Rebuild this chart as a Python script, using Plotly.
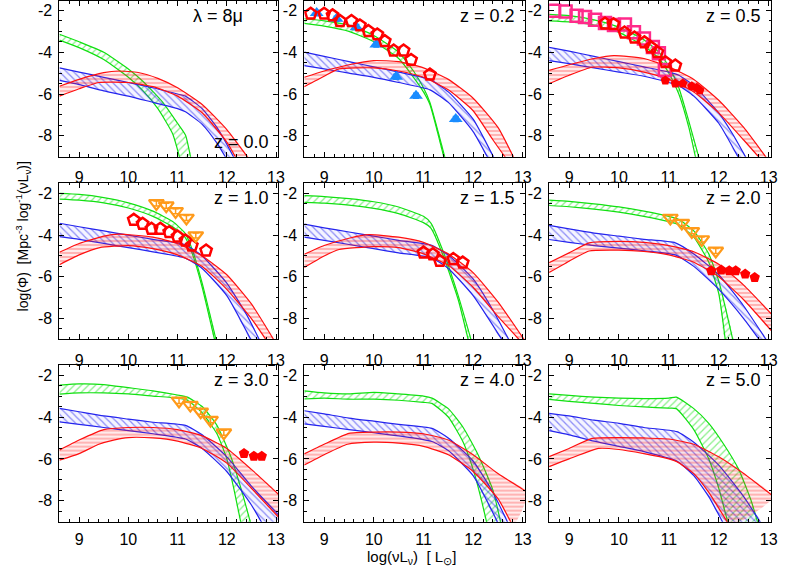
import plotly.graph_objects as go

# ---------------- data ----------------
panel_labels = ["z = 0.0", "z = 0.2", "z = 0.5", "z = 1.0", "z = 1.5", "z = 2.0", "z = 3.0", "z = 4.0", "z = 5.0"]
x_ticks = [9, 10, 11, 12, 13]
y_ticks = [-8, -6, -4, -2]

# z = 0.0
p1_green_up = [(8.6,-3.14),(9.0,-3.5),(9.5,-4.0),(10.0,-4.8),(10.3,-5.4),(10.7,-6.4),(11.0,-7.4),(11.16,-7.96),(11.28,-9.2)]
p1_green_lo = [(8.6,-3.42),(9.0,-3.78),(9.5,-4.35),(10.0,-5.2),(10.3,-5.85),(10.6,-6.7),(10.9,-7.9),(11.06,-9.2)]
p1_blue_up = [(8.6,-4.75),(9.0,-4.95),(9.5,-5.2),(10.0,-5.45),(10.5,-5.7),(11.0,-6.0),(11.16,-6.1),(11.5,-6.7),(11.8,-7.6),(12.0,-8.4),(12.18,-9.2)]
p1_blue_lo = [(8.6,-5.35),(9.0,-5.55),(9.5,-5.85),(10.0,-6.1),(10.5,-6.4),(11.0,-6.7),(11.16,-6.85),(11.5,-7.45),(11.8,-8.35),(12.02,-9.2)]
p1_red_up = [(8.6,-5.63),(9.0,-5.3),(9.5,-4.98),(9.8,-4.9),(10.2,-4.97),(10.6,-5.25),(11.0,-5.7),(11.5,-6.5),(12.0,-7.7),(12.48,-9.2)]
p1_red_lo = [(8.6,-6.1),(9.0,-5.75),(9.4,-5.45),(10.0,-5.45),(10.5,-5.65),(11.0,-6.1),(11.5,-6.9),(12.0,-8.3),(12.22,-9.2)]
# z = 0.2
p2_green_up = [(8.6,-2.4),(9.0,-2.5),(9.5,-2.7),(10.0,-3.2),(10.5,-4.0),(10.8,-4.9),(11.0,-5.7),(11.13,-6.4),(11.45,-9.2)]
p2_green_lo = [(8.6,-2.62),(9.0,-2.75),(9.5,-3.0),(10.0,-3.5),(10.5,-4.3),(10.8,-5.2),(11.0,-5.9),(11.13,-6.5),(11.43,-9.2)]
p2_blue_up = [(8.6,-4.0),(9.0,-4.2),(9.5,-4.45),(10.0,-4.7),(10.5,-4.95),(11.13,-5.3),(11.5,-5.9),(12.0,-7.2),(12.45,-9.2)]
p2_blue_lo = [(8.6,-4.64),(9.0,-4.8),(9.5,-5.0),(10.0,-5.2),(10.5,-5.45),(11.13,-5.8),(11.5,-6.4),(12.0,-7.8),(12.33,-9.2)]
p2_red_up = [(8.6,-5.2),(9.0,-4.9),(9.5,-4.6),(10.0,-4.4),(10.5,-4.45),(11.0,-4.75),(11.5,-5.3),(12.0,-6.2),(12.5,-7.6),(12.85,-9.2)]
p2_red_lo = [(8.6,-5.65),(9.0,-5.15),(9.3,-4.8),(10.0,-4.75),(10.5,-4.9),(11.0,-5.2),(11.5,-5.8),(12.0,-6.8),(12.4,-8.2),(12.7,-9.2)]
# z = 0.5
p3_green_up = [(8.6,-2.19),(9.0,-2.25),(9.5,-2.45),(10.0,-2.8),(10.5,-3.4),(10.8,-4.0),(11.0,-4.7),(11.2,-5.7),(11.4,-7.3),(11.62,-9.2)]
p3_green_lo = [(8.6,-2.5),(9.0,-2.55),(9.5,-2.7),(10.0,-3.05),(10.5,-3.7),(10.8,-4.3),(11.0,-5.0),(11.2,-6.0),(11.4,-7.6),(11.55,-9.2)]
p3_blue_up = [(8.6,-3.77),(9.0,-3.95),(9.5,-4.2),(10.0,-4.45),(10.5,-4.7),(11.0,-4.95),(11.2,-5.1),(11.5,-5.6),(12.0,-6.9),(12.3,-8.0),(12.58,-9.2)]
p3_blue_lo = [(8.6,-4.4),(9.0,-4.55),(9.5,-4.75),(10.0,-4.95),(10.5,-5.15),(11.0,-5.45),(11.2,-5.6),(11.5,-6.1),(12.0,-7.4),(12.43,-9.2)]
p3_red_up = [(8.6,-4.87),(9.0,-4.6),(9.5,-4.3),(9.9,-4.16),(10.5,-4.3),(11.0,-4.7),(11.5,-5.3),(12.0,-6.3),(12.5,-7.6),(13.0,-9.2)]
p3_red_lo = [(8.6,-5.5),(9.0,-5.1),(9.46,-4.72),(10.0,-4.75),(10.5,-4.95),(11.0,-5.3),(11.5,-5.9),(12.0,-6.9),(12.5,-8.2),(12.87,-9.2)]
# z = 1.0
p4_green_up = [(8.6,-2.0),(9.0,-2.05),(9.5,-2.2),(10.0,-2.45),(10.5,-2.85),(10.9,-3.35),(11.15,-3.9),(11.3,-4.7),(11.5,-6.3),(11.8,-9.2)]
p4_green_lo = [(8.6,-2.27),(9.0,-2.32),(9.5,-2.45),(10.0,-2.7),(10.5,-3.1),(10.9,-3.6),(11.15,-4.1),(11.3,-4.9),(11.5,-6.5),(11.77,-9.2)]
p4_blue_up = [(8.6,-3.43),(9.0,-3.6),(9.5,-3.8),(10.0,-4.0),(10.5,-4.2),(11.15,-4.45),(11.5,-5.0),(12.0,-6.3),(12.4,-7.8),(12.7,-9.2)]
p4_blue_lo = [(8.6,-4.07),(9.0,-4.2),(9.5,-4.4),(10.0,-4.6),(10.5,-4.8),(11.15,-5.1),(11.5,-5.6),(12.0,-6.9),(12.53,-9.2)]
p4_red_up = [(8.6,-4.82),(9.0,-4.4),(9.5,-4.05),(9.8,-3.95),(10.5,-4.1),(11.0,-4.4),(11.5,-5.0),(12.0,-5.9),(12.5,-7.3),(13.0,-9.2)]
p4_red_lo = [(8.6,-5.42),(9.0,-4.95),(9.42,-4.6),(10.0,-4.5),(10.5,-4.65),(11.0,-4.95),(11.5,-5.5),(12.0,-6.6),(12.5,-8.0),(12.85,-9.2)]
# z = 1.5
p5_green_up = [(8.6,-2.11),(9.0,-2.15),(9.5,-2.25),(10.0,-2.4),(10.5,-2.65),(11.0,-3.1),(11.15,-3.42),(11.4,-4.8),(11.7,-6.9),(11.98,-9.2)]
p5_green_lo = [(8.6,-2.43),(9.0,-2.47),(9.5,-2.56),(10.0,-2.72),(10.5,-2.97),(11.0,-3.4),(11.15,-3.66),(11.4,-5.0),(11.7,-7.1),(11.92,-9.2)]
p5_blue_up = [(8.6,-3.47),(9.0,-3.65),(9.5,-3.85),(10.0,-4.05),(10.5,-4.25),(11.15,-4.48),(11.5,-4.95),(12.0,-6.1),(12.4,-7.6),(12.76,-9.2)]
p5_blue_lo = [(8.6,-4.1),(9.0,-4.25),(9.5,-4.45),(10.0,-4.65),(10.5,-4.85),(11.15,-5.08),(11.5,-5.6),(12.0,-6.9),(12.63,-9.2)]
p5_red_up = [(8.6,-4.92),(9.0,-4.5),(9.5,-4.15),(9.9,-3.98),(10.5,-4.1),(11.0,-4.35),(11.5,-4.9),(12.0,-5.8),(12.5,-7.2),(13.08,-9.2)]
p5_red_lo = [(8.6,-5.55),(9.0,-5.0),(9.3,-4.69),(10.0,-4.55),(10.5,-4.6),(11.0,-4.9),(11.5,-5.45),(12.0,-6.5),(12.5,-7.9),(13.0,-9.2)]
# z = 2.0
p6_green_up = [(8.6,-2.32),(9.0,-2.38),(9.5,-2.5),(10.0,-2.65),(10.5,-2.85),(11.0,-3.1),(11.2,-3.25),(11.5,-3.8),(11.8,-4.9),(12.0,-6.2),(12.3,-9.2)]
p6_green_lo = [(8.6,-2.58),(9.0,-2.64),(9.5,-2.75),(10.0,-2.9),(10.5,-3.1),(11.0,-3.35),(11.2,-3.5),(11.5,-4.1),(11.8,-5.3),(12.0,-6.8),(12.14,-9.2)]
p6_blue_up = [(8.6,-3.53),(9.0,-3.7),(9.5,-3.9),(10.0,-4.05),(10.5,-4.2),(11.13,-4.37),(11.5,-4.9),(12.0,-5.9),(12.5,-7.4),(13.0,-9.2)]
p6_blue_lo = [(8.6,-4.21),(9.0,-4.35),(9.5,-4.5),(10.0,-4.62),(10.5,-4.75),(11.13,-4.95),(11.5,-5.5),(12.0,-6.6),(12.5,-8.0),(12.87,-9.2)]
p6_red_up = [(8.6,-5.32),(9.0,-4.85),(9.4,-4.37),(10.0,-4.3),(10.5,-4.35),(11.0,-4.5),(11.5,-4.8),(12.0,-5.4),(12.5,-6.4),(13.1,-7.9)]
p6_red_lo = [(8.6,-5.79),(9.0,-5.25),(9.4,-4.76),(10.0,-4.72),(10.5,-4.78),(11.0,-4.95),(11.5,-5.3),(12.0,-6.0),(12.5,-7.1),(13.1,-8.7)]
# z = 3.0
p7_green_up = [(8.6,-2.48),(9.0,-2.42),(9.5,-2.45),(10.0,-2.6),(10.5,-2.75),(11.0,-2.95),(11.2,-3.05),(11.5,-3.5),(11.8,-4.4),(12.1,-6.0),(12.3,-7.5),(12.5,-9.2)]
p7_green_lo = [(8.6,-2.91),(9.0,-2.85),(9.5,-2.85),(10.0,-2.9),(10.5,-3.0),(11.0,-3.1),(11.2,-3.2),(11.5,-3.8),(11.8,-4.8),(12.0,-6.0),(12.15,-7.5),(12.3,-9.2)]
p7_blue_up = [(8.6,-3.59),(9.0,-3.75),(9.5,-3.95),(10.0,-4.1),(10.5,-4.25),(11.16,-4.4),(11.5,-4.85),(12.0,-5.9),(12.5,-7.3),(13.1,-8.8)]
p7_blue_lo = [(8.6,-4.23),(9.0,-4.35),(9.5,-4.5),(10.0,-4.65),(10.5,-4.8),(11.16,-5.05),(11.5,-5.5),(12.0,-6.6),(12.5,-8.2),(12.75,-9.2)]
p7_red_up = [(8.6,-5.58),(9.0,-5.1),(9.5,-4.6),(10.0,-4.5),(10.5,-4.5),(11.0,-4.6),(11.5,-4.9),(12.0,-5.5),(12.5,-6.5),(13.1,-7.8)]
p7_red_lo = [(8.6,-6.06),(9.0,-5.75),(9.4,-5.3),(9.7,-5.1),(10.0,-4.98),(10.5,-5.0),(11.0,-5.15),(11.5,-5.5),(12.0,-6.2),(12.5,-7.4),(13.1,-8.9)]
# z = 4.0
p8_green_up = [(8.6,-2.75),(9.0,-2.85),(9.5,-2.9),(10.0,-2.82),(10.5,-2.9),(11.0,-3.0),(11.17,-3.1),(11.5,-3.6),(11.8,-4.5),(12.1,-5.8),(12.4,-7.5),(12.57,-9.2)]
p8_green_lo = [(8.6,-3.14),(9.0,-3.1),(9.5,-3.15),(10.0,-3.15),(10.5,-3.2),(11.0,-3.3),(11.17,-3.35),(11.5,-4.0),(11.8,-5.2),(12.0,-6.5),(12.15,-7.8),(12.29,-9.2)]
p8_blue_up = [(8.6,-3.7),(9.0,-3.85),(9.5,-4.05),(10.0,-4.2),(10.5,-4.35),(11.17,-4.54),(11.5,-5.0),(12.0,-6.1),(12.4,-7.6),(12.73,-9.2)]
p8_blue_lo = [(8.6,-4.33),(9.0,-4.45),(9.5,-4.6),(10.0,-4.75),(10.5,-4.9),(11.17,-5.17),(11.5,-5.6),(12.0,-6.8),(12.53,-9.2)]
p8_red_up = [(8.6,-5.76),(9.0,-5.3),(9.5,-4.78),(10.0,-4.72),(10.5,-4.72),(11.0,-4.8),(11.5,-5.1),(12.0,-5.8),(12.5,-6.7),(13.1,-7.6)]
p8_red_lo = [(8.6,-6.29),(9.0,-5.8),(9.47,-5.3),(10.0,-5.2),(10.5,-5.25),(11.0,-5.4),(11.5,-5.8),(12.0,-6.6),(12.5,-7.9),(12.8,-9.2)]
# z = 5.0
p9_green_up = [(8.6,-2.9),(9.0,-2.97),(9.5,-3.05),(10.0,-3.1),(10.5,-3.12),(11.0,-3.1),(11.15,-3.05),(11.5,-3.6),(11.8,-4.3),(12.1,-5.3),(12.4,-6.5),(12.65,-8.0),(12.8,-9.2)]
p9_green_lo = [(8.6,-3.16),(9.0,-3.25),(9.5,-3.35),(10.0,-3.45),(10.5,-3.52),(11.0,-3.58),(11.15,-3.6),(11.5,-4.6),(11.8,-6.0),(12.0,-7.4),(12.2,-9.2)]
p9_blue_up = [(8.6,-3.83),(9.0,-3.95),(9.5,-4.15),(10.0,-4.3),(10.5,-4.5),(11.16,-4.7),(11.5,-5.2),(12.0,-6.3),(12.5,-7.8),(12.88,-9.2)]
p9_blue_lo = [(8.6,-4.65),(9.0,-4.85),(9.5,-5.15),(10.0,-5.4),(10.5,-5.65),(11.16,-6.1),(11.5,-6.8),(11.8,-7.8),(12.12,-9.2)]
p9_red_up = [(8.6,-5.89),(9.0,-5.5),(9.46,-5.02),(10.0,-4.98),(10.5,-5.0),(11.0,-5.05),(11.5,-5.3),(12.0,-5.9),(12.5,-6.7),(13.1,-7.8)]
p9_red_lo = [(8.6,-6.37),(9.0,-6.0),(9.59,-5.5),(10.0,-5.55),(10.5,-5.75),(11.0,-6.0),(11.16,-6.13),(11.5,-6.7),(11.8,-7.6),(12.22,-9.2)]

# observed points
p2_pent_x = [8.73, 9.0, 9.17, 9.32, 9.55, 9.72, 9.89, 10.07, 10.22, 10.4, 10.6, 10.75, 11.13]
p2_pent_y = [-2.16, -2.16, -2.24, -2.51, -2.51, -2.72, -2.99, -3.15, -3.47, -3.92, -3.92, -4.37, -5.07]
p2_tri_x = [8.85, 9.25, 9.65, 10.05, 10.45, 10.85, 11.65]
p2_tri_y = [-2.13, -2.4, -2.8, -3.63, -5.17, -6.08, -7.2]
p3_sq_x = [8.70, 8.93, 9.15, 9.32, 9.52, 9.72, 9.90, 10.12, 10.30, 10.50, 10.68, 10.80, 10.92]
p3_sq_y = [-2.02, -2.05, -2.25, -2.32, -2.45, -2.6, -2.7, -2.68, -3.05, -3.35, -3.75, -4.05, -4.85]
p3_pent_x = [9.72, 9.89, 10.11, 10.31, 10.51, 10.64, 10.77, 10.93, 11.13]
p3_pent_y = [-2.63, -2.66, -3.06, -3.3, -3.53, -3.77, -4.0, -4.48, -4.64]
p3_fpent_x = [10.93, 11.13, 11.28, 11.46, 11.56, 11.62]
p3_fpent_y = [-5.35, -5.5, -5.5, -5.63, -5.7, -5.82]
p4_pent_x = [10.11, 10.29, 10.47, 10.65, 10.83, 11.0, 11.16, 11.29, 11.58]
p4_pent_y = [-3.27, -3.46, -3.7, -3.7, -3.86, -4.07, -4.26, -4.5, -4.74]
p4_dtri_x = [10.57, 10.77, 10.96, 11.18, 11.37]
p4_dtri_y = [-2.48, -2.59, -2.86, -3.18, -4.02]
p5_pent_x = [11.0, 11.19, 11.33, 11.6, 11.79]
p5_pent_y = [-4.84, -4.92, -5.24, -5.15, -5.32]
p6_dtri_x = [11.03, 11.26, 11.46, 11.66, 11.94]
p6_dtri_y = [-3.18, -3.42, -3.82, -4.21, -4.76]
p6_fpent_x = [11.85, 12.05, 12.21, 12.34, 12.53, 12.72]
p6_fpent_y = [-5.71, -5.67, -5.71, -5.71, -5.87, -6.03]
p7_dtri_x = [11.03, 11.26, 11.47, 11.67, 11.94]
p7_dtri_y = [-3.23, -3.43, -3.75, -4.15, -4.75]
p7_fpent_x = [12.35, 12.55, 12.71]
p7_fpent_y = [-5.74, -5.87, -5.87]

bands = [
    [(p1_green_up, p1_green_lo), (p1_blue_up, p1_blue_lo), (p1_red_up, p1_red_lo)],
    [(p2_green_up, p2_green_lo), (p2_blue_up, p2_blue_lo), (p2_red_up, p2_red_lo)],
    [(p3_green_up, p3_green_lo), (p3_blue_up, p3_blue_lo), (p3_red_up, p3_red_lo)],
    [(p4_green_up, p4_green_lo), (p4_blue_up, p4_blue_lo), (p4_red_up, p4_red_lo)],
    [(p5_green_up, p5_green_lo), (p5_blue_up, p5_blue_lo), (p5_red_up, p5_red_lo)],
    [(p6_green_up, p6_green_lo), (p6_blue_up, p6_blue_lo), (p6_red_up, p6_red_lo)],
    [(p7_green_up, p7_green_lo), (p7_blue_up, p7_blue_lo), (p7_red_up, p7_red_lo)],
    [(p8_green_up, p8_green_lo), (p8_blue_up, p8_blue_lo), (p8_red_up, p8_red_lo)],
    [(p9_green_up, p9_green_lo), (p9_blue_up, p9_blue_lo), (p9_red_up, p9_red_lo)],
]

# ---------------- styling ----------------
GREEN = "#11e011"
BLUE = "#2424ee"
RED = "#ff1010"
PENT_RED = "#ff0000"
TRI_BLUE = "#1a8cff"
SQ_PINK = "#ff2a8a"
ORANGE = "#ff9a1a"
FONT = "Liberation Sans, Arial, Helvetica, sans-serif"

band_styles = [
    dict(color=GREEN, shape="/", size=5, bg="rgba(0,0,0,0)"),
    dict(color=BLUE, shape="\\", size=5, bg="rgba(60,60,255,0.06)"),
    dict(color=RED, shape="-", size=4, bg="rgba(255,60,60,0.10)"),
]

x_domains = [[0.0760, 0.3561], [0.3891, 0.6717], [0.7022, 0.9861]]
y_domains = [[0.7244, 1.0], [0.4011, 0.6779], [0.0783, 0.3564]]
y_ranges = [[-9, -1.55], [-9, -1.5], [-9, -1.5]]
x_label_standoff = [6, 6, 3]

fig = go.Figure()

for i in range(9):
    xa = "x" if i == 0 else f"x{i+1}"
    ya = "y" if i == 0 else f"y{i+1}"
    for (up, lo), st in zip(bands[i], band_styles):
        ux = [p[0] for p in up]; uy = [p[1] for p in up]
        lx = [p[0] for p in lo]; ly = [p[1] for p in lo]
        fig.add_trace(go.Scatter(
            x=ux + lx[::-1], y=uy + ly[::-1], xaxis=xa, yaxis=ya,
            mode="lines", line=dict(width=0, color=st["color"], shape="spline", smoothing=0.5),
            fill="toself", fillcolor=st["bg"],
            fillpattern=dict(shape=st["shape"], fgcolor=st["color"], bgcolor=st["bg"],
                             size=st["size"], solidity=0.25),
            hoverinfo="skip", showlegend=False))
        fig.add_trace(go.Scatter(
            x=ux + [None] + lx, y=uy + [None] + ly, xaxis=xa, yaxis=ya,
            mode="lines", line=dict(width=1.2, color=st["color"], shape="spline", smoothing=0.5),
            hoverinfo="skip", showlegend=False))

def add_pts(i, xs, ys, symbol, color, size, lw=2.5, err=None):
    xa = "x" if i == 0 else f"x{i+1}"
    ya = "y" if i == 0 else f"y{i+1}"
    kw = {}
    if err is not None:
        kw["error_y"] = dict(type="constant", value=err, color=color, thickness=1.5, width=3)
    fig.add_trace(go.Scatter(
        x=xs, y=ys, xaxis=xa, yaxis=ya, mode="markers",
        marker=dict(symbol=symbol, size=size, color=color, line=dict(width=lw, color=color)),
        showlegend=False, hoverinfo="skip", **kw))

add_pts(1, p2_tri_x, p2_tri_y, "triangle-up", TRI_BLUE, 12, 0, err=0.12)
add_pts(1, p2_pent_x, p2_pent_y, "pentagon-open", PENT_RED, 12)
add_pts(2, p3_sq_x, p3_sq_y, "square-open", SQ_PINK, 12)
add_pts(2, p3_pent_x, p3_pent_y, "pentagon-open", PENT_RED, 12)
add_pts(2, p3_fpent_x, p3_fpent_y, "pentagon", PENT_RED, 10, 0)
add_pts(3, p4_pent_x, p4_pent_y, "pentagon-open", PENT_RED, 12)
add_pts(3, p4_dtri_x, p4_dtri_y, "triangle-down-open", ORANGE, 13, 2.2, err=0.12)
add_pts(4, p5_pent_x, p5_pent_y, "pentagon-open", PENT_RED, 12)
add_pts(5, p6_dtri_x, p6_dtri_y, "triangle-down-open", ORANGE, 13, 2.2, err=0.12)
add_pts(5, p6_fpent_x, p6_fpent_y, "pentagon", PENT_RED, 11, 0)
add_pts(6, p7_dtri_x, p7_dtri_y, "triangle-down-open", ORANGE, 13, 2.2, err=0.12)
add_pts(6, p7_fpent_x, p7_fpent_y, "pentagon", PENT_RED, 11, 0)

layout = dict(
    width=789, height=566, margin=dict(l=0, r=0, t=0, b=0),
    paper_bgcolor="white", plot_bgcolor="white", showlegend=False,
    font=dict(family=FONT, color="black", size=16),
)
annotations = []
for i in range(9):
    r, c = divmod(i, 3)
    sfx = "" if i == 0 else str(i + 1)
    layout["xaxis" + sfx] = dict(
        domain=x_domains[c], range=[8.6, 13.05], anchor="y" + sfx,
        tickvals=x_ticks, ticktext=[str(v) for v in x_ticks],
        ticks="inside", ticklen=5, tickwidth=1, tickcolor="black",
        mirror="allticks", showline=True, linecolor="black", linewidth=1,
        showgrid=False, zeroline=False, ticklabelstandoff=x_label_standoff[r],
        tickfont=dict(family=FONT, size=16, color="black"),
        minor=dict(dtick=0.2, tick0=9, ticks="inside", ticklen=2.5, tickcolor="black", showgrid=False),
    )
    layout["yaxis" + sfx] = dict(
        domain=y_domains[r], range=y_ranges[r], anchor="x" + sfx,
        tickvals=y_ticks, ticktext=[str(v) for v in y_ticks],
        ticks="inside", ticklen=5, tickwidth=1, tickcolor="black",
        mirror="allticks", showline=True, linecolor="black", linewidth=1,
        showgrid=False, zeroline=False, ticklabelstandoff=3,
        tickfont=dict(family=FONT, size=16, color="black"),
        minor=dict(dtick=0.5, tick0=-2, ticks="inside", ticklen=2.5, tickcolor="black", showgrid=False),
    )
    xref = "x" + sfx + " domain"; yref = "y" + sfx + " domain"
    if i == 0:
        annotations.append(dict(text="z = 0.0", x=1 - 8 / 221, y=0.095, xref=xref, yref=yref,
                                xanchor="right", yanchor="middle", showarrow=False,
                                font=dict(family=FONT, size=18, color="black")))
        annotations.append(dict(text="λ = 8μ", x=0.724, y=0.905, xref=xref, yref=yref,
                                xanchor="center", yanchor="middle", showarrow=False,
                                font=dict(family=FONT, size=18, color="black")))
    else:
        annotations.append(dict(text=panel_labels[i], x=1 - 8 / 222, y=0.905, xref=xref, yref=yref,
                                xanchor="right", yanchor="middle", showarrow=False,
                                font=dict(family=FONT, size=18, color="black")))

annotations.append(dict(text="log(νL<sub>ν</sub>)  [ L<sub>⊙</sub>]", x=415 / 789, y=1 - 557 / 566,
                        xref="paper", yref="paper", xanchor="center", yanchor="middle",
                        showarrow=False, font=dict(family=FONT, size=15, color="black")))
annotations.append(dict(text="log(Φ)  [Mpc<sup>-3</sup> log<sup>-1</sup>(νL<sub>ν</sub>)]", x=23 / 789, y=1 - 236 / 566,
                        xref="paper", yref="paper", xanchor="center", yanchor="middle", textangle=-90,
                        showarrow=False, font=dict(family=FONT, size=14, color="black")))
layout["annotations"] = annotations
fig.update_layout(**layout)
fig.write_html("out.html", config={"displayModeBar": False},
               post_script="document.body.style.margin='0';document.body.style.padding='0';")
